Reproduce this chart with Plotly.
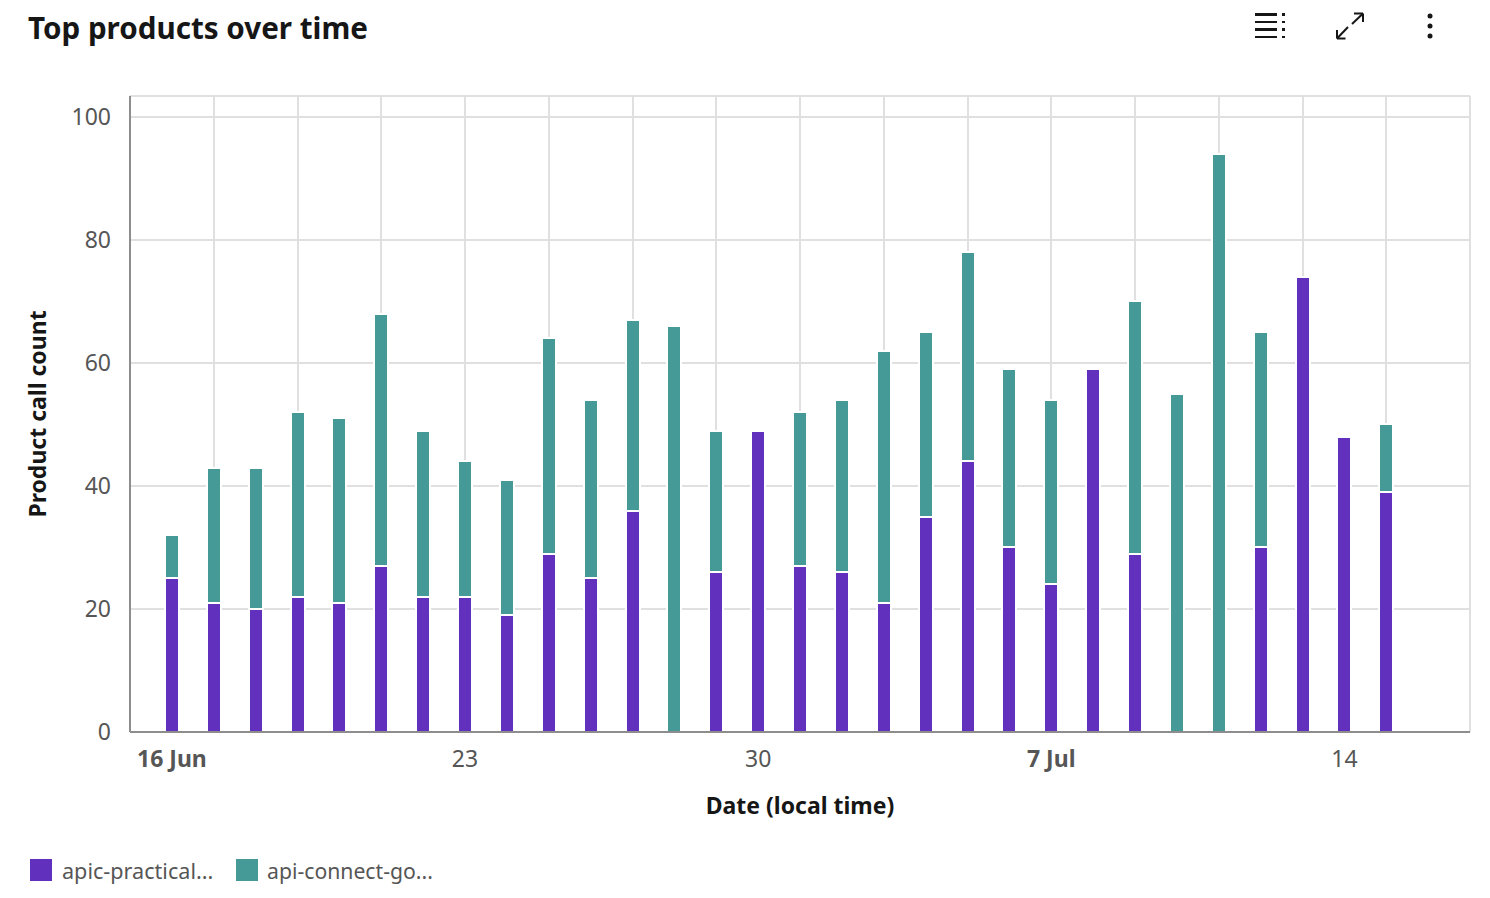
import plotly.graph_objects as go
import pandas as pd

W, H = 1490, 898
PL, PR, PT, PB = 130, 1470, 96, 732

dates = pd.date_range("2025-06-16", periods=30).strftime("%Y-%m-%d").tolist()
practical = [25, 21, 20, 22, 21, 27, 22, 22, 19, 29, 25, 36, 0, 26, 49, 27, 26, 21, 35, 44, 30, 24, 59, 29, 0, 0, 30, 74, 48, 39]
connect = [7, 22, 23, 30, 30, 41, 27, 22, 22, 35, 29, 31, 66, 23, 0, 25, 28, 41, 30, 34, 29, 30, 0, 41, 55, 94, 35, 0, 0, 11]
series_names = ["apic-practical...", "api-connect-go..."]
tick_dates = ["2025-06-16", "2025-06-23", "2025-06-30", "2025-07-07", "2025-07-14"]
tick_labels = ["<b>16 Jun</b>", "23", "30", "<b>7 Jul</b>", "14"]
grid_dates = pd.date_range("2025-06-17", "2025-07-15", freq="2D").strftime("%Y-%m-%d").tolist()
y_ticks = [0, 20, 40, 60, 80, 100]

FONT = "Noto Sans"
PURPLE, TEAL = "#6130BC", "#459A98"
GRID, AXIS, TXT, DARK = "#E0E0E0", "#8D8D8D", "#565656", "#161616"
DAY = 86400000
BAR_MS = 14 / 41.86 * DAY


def px(x):
    return (x - PL) / (PR - PL)


def py(y):
    return (PB - y) / (PB - PT)


fig = go.Figure()
for name, vals, col in [(series_names[0], practical, PURPLE), (series_names[1], connect, TEAL)]:
    fig.add_bar(x=dates, y=vals, name=name, width=BAR_MS,
                marker=dict(color=col, line=dict(color="white", width=2)))

shapes = []


def line(x0, y0, x1, y1, w=2.0, color=DARK):
    shapes.append(dict(type="line", xref="paper", yref="paper", x0=px(x0), y0=py(y0), x1=px(x1), y1=py(y1),
                       line=dict(color=color, width=w), layer="above"))


def rect(x0, y0, x1, y1, color=DARK):
    shapes.append(dict(type="rect", xref="paper", yref="paper", x0=px(x0), y0=py(y0), x1=px(x1), y1=py(y1),
                       fillcolor=color, line=dict(width=0), layer="above"))


# plot frame
line(PL, PT, PR, PT, 2, GRID)
line(PR, PT, PR, PB, 2, GRID)
line(PL, PT, PL, PB, 2, AXIS)
line(PL, PB, PR, PB, 2, AXIS)

# header icon: table view
for y, h in [(13, 3), (21, 2), (28, 3), (36, 2)]:
    rect(1255, y, 1277, y + h)
    rect(1282, y, 1285, y + h)
# header icon: expand
line(1352, 24, 1363, 13.5)
line(1354, 13.5, 1363, 13.5)
line(1363, 13.5, 1363, 22)
line(1337, 38.5, 1348, 27)
line(1337, 30, 1337, 38.5)
line(1337, 38.5, 1345.5, 38.5)
# header icon: overflow menu
for cy in (16, 26, 36):
    shapes.append(dict(type="circle", xref="paper", yref="paper", x0=px(1427.5), x1=px(1432.5),
                       y0=py(cy - 2.5), y1=py(cy + 2.5), fillcolor=DARK, line=dict(width=0), layer="above"))
# legend swatches
for x0, col in [(30, PURPLE), (236, TEAL)]:
    shapes.append(dict(type="rect", xref="paper", yref="paper", x0=px(x0), x1=px(x0 + 22), y0=py(859), y1=py(881),
                       fillcolor=col, line=dict(width=0)))

annotations = [
    dict(text="<b>Top products over time</b>", x=px(26), y=py(27), xref="paper", yref="paper", xanchor="left",
         yanchor="middle", showarrow=False, font=dict(size=29.6, color=DARK, family=FONT)),
    dict(text=series_names[0], x=px(60), y=py(870), xref="paper", yref="paper", xanchor="left", yanchor="middle",
         showarrow=False, font=dict(size=21.6, color=TXT, family=FONT)),
    dict(text=series_names[1], x=px(265), y=py(870), xref="paper", yref="paper", xanchor="left", yanchor="middle",
         showarrow=False, font=dict(size=21.2, color=TXT, family=FONT)),
]

fig.update_layout(
    width=W, height=H, barmode="stack", showlegend=False, autosize=False,
    margin=dict(l=PL, r=W - PR, t=PT, b=H - PB, pad=0),
    paper_bgcolor="white", plot_bgcolor="white", shapes=shapes, annotations=annotations,
    font=dict(family=FONT),
)
fig.update_xaxes(
    type="date", range=["2025-06-15", "2025-07-17"], tickmode="array", tickvals=tick_dates, ticktext=tick_labels,
    showgrid=False, showline=False, zeroline=False, ticks="", ticklen=0, ticklabelstandoff=11,
    tickfont=dict(size=23, color=TXT, family=FONT),
    title=dict(text="<b>Date (local time)</b>", standoff=24, font=dict(size=23, color=DARK, family=FONT)),
    minor=dict(tickmode="array", tickvals=grid_dates, showgrid=True, gridcolor=GRID, gridwidth=2, ticks=""),
)
fig.update_yaxes(
    range=[0, 103.4], tickmode="array", tickvals=y_ticks, showgrid=True, gridcolor=GRID, gridwidth=2,
    showline=False, zeroline=False, ticks="", ticklen=0, ticklabelstandoff=18,
    tickfont=dict(size=23, color=TXT, family=FONT),
    title=dict(text="<b>Product call count</b>", standoff=18, font=dict(size=23, color=DARK, family=FONT)),
)
fig.write_html("out.html", config={"displayModeBar": False},
               post_script="document.body.style.margin='0';document.documentElement.style.overflow='hidden';")
